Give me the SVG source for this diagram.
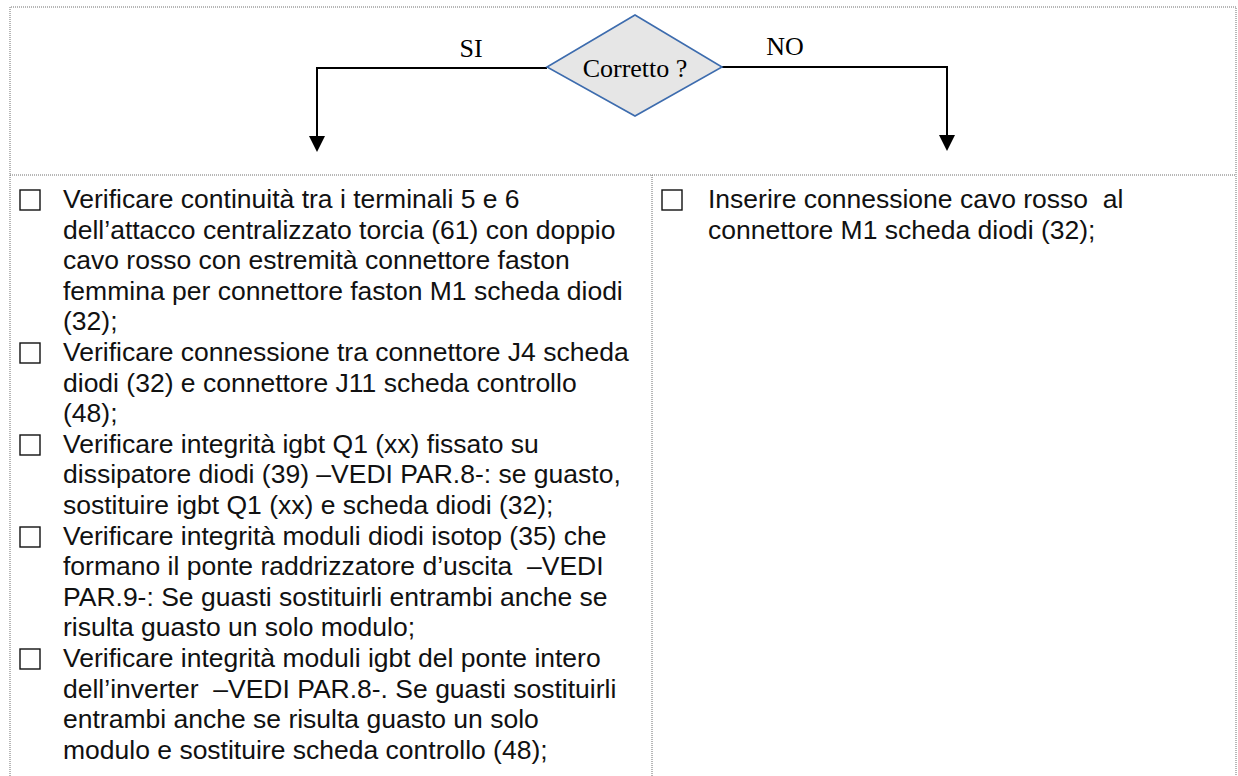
<svg xmlns="http://www.w3.org/2000/svg" width="1238" height="776" viewBox="0 0 1238 776">
  <style>
    .frame { fill: none; stroke: #6e6e6e; stroke-width: 1; stroke-dasharray: 1 1; }
    .flow { fill: none; stroke: #000; stroke-width: 2; }
    .decision { fill: #e6e6e6; stroke: #3d6cae; stroke-width: 1.6; }
    .serif { font-family: "Liberation Serif", "Times New Roman", serif; font-size: 26px; fill: #000; }
    .body { font-family: "Liberation Sans", Arial, Helvetica, sans-serif; font-size: 26.5px; fill: #111; white-space: pre; }
    .box { fill: #fff; stroke: #111; stroke-width: 1.4; }
  </style>

  <rect width="1238" height="776" fill="#fff"/>

  <!-- table frame -->
  <g id="frame">
    <path class="frame" d="M10,776 V7 H1236 V776"/>
    <path class="frame" d="M10,175 H1236"/>
    <path class="frame" d="M652,175 V776"/>
  </g>

  <!-- connectors -->
  <g id="connectors">
    <path class="flow" d="M547,68 H317 V137"/>
    <path d="M309,136 L325,136 L317,152 Z" fill="#000"/>
    <path class="flow" d="M722,67 H947 V136"/>
    <path d="M939,135 L955,135 L947,151 Z" fill="#000"/>
    <text class="serif" x="471" y="57" text-anchor="middle">SI</text>
    <text class="serif" x="785" y="55" text-anchor="middle">NO</text>
  </g>

  <!-- decision node -->
  <g id="decision">
    <path class="decision" d="M635,15 L722,67 L635,116 L547,67 Z"/>
    <text class="serif" x="635" y="77" text-anchor="middle">Corretto ?</text>
  </g>

  <!-- YES branch checklist -->
  <g id="checklist-yes">
    <rect class="box" x="20" y="190" width="20" height="20"/>
    <rect class="box" x="20" y="343" width="20" height="20"/>
    <rect class="box" x="20" y="435" width="20" height="20"/>
    <rect class="box" x="20" y="527" width="20" height="20"/>
    <rect class="box" x="20" y="649" width="20" height="20"/>
    <text class="body" x="63" y="208">Verificare continuità tra i terminali 5 e 6</text>
    <text class="body" x="63" y="238.6">dell’attacco centralizzato torcia (61) con doppio</text>
    <text class="body" x="63" y="269.2">cavo rosso con estremità connettore faston</text>
    <text class="body" x="63" y="299.8">femmina per connettore faston M1 scheda diodi</text>
    <text class="body" x="63" y="330.4">(32);</text>
    <text class="body" x="63" y="361">Verificare connessione tra connettore J4 scheda</text>
    <text class="body" x="63" y="391.6">diodi (32) e connettore J11 scheda controllo</text>
    <text class="body" x="63" y="422.2">(48);</text>
    <text class="body" x="63" y="452.8">Verificare integrità igbt Q1 (xx) fissato su</text>
    <text class="body" x="63" y="483.4">dissipatore diodi (39) –VEDI PAR.8-: se guasto,</text>
    <text class="body" x="63" y="514">sostituire igbt Q1 (xx) e scheda diodi (32);</text>
    <text class="body" x="63" y="544.6">Verificare integrità moduli diodi isotop (35) che</text>
    <text class="body" x="63" y="575.2">formano il ponte raddrizzatore d’uscita  –VEDI</text>
    <text class="body" x="63" y="605.8">PAR.9-: Se guasti sostituirli entrambi anche se</text>
    <text class="body" x="63" y="636.4">risulta guasto un solo modulo;</text>
    <text class="body" x="63" y="667">Verificare integrità moduli igbt del ponte intero</text>
    <text class="body" x="63" y="697.6">dell’inverter  –VEDI PAR.8-. Se guasti sostituirli</text>
    <text class="body" x="63" y="728.2">entrambi anche se risulta guasto un solo</text>
    <text class="body" x="63" y="758.8">modulo e sostituire scheda controllo (48);</text>
  </g>

  <!-- NO branch checklist -->
  <g id="checklist-no">
    <rect class="box" x="662" y="190" width="20" height="20"/>
    <text class="body" x="708" y="208">Inserire connessione cavo rosso  al</text>
    <text class="body" x="708" y="238.6">connettore M1 scheda diodi (32);</text>
  </g>
</svg>
